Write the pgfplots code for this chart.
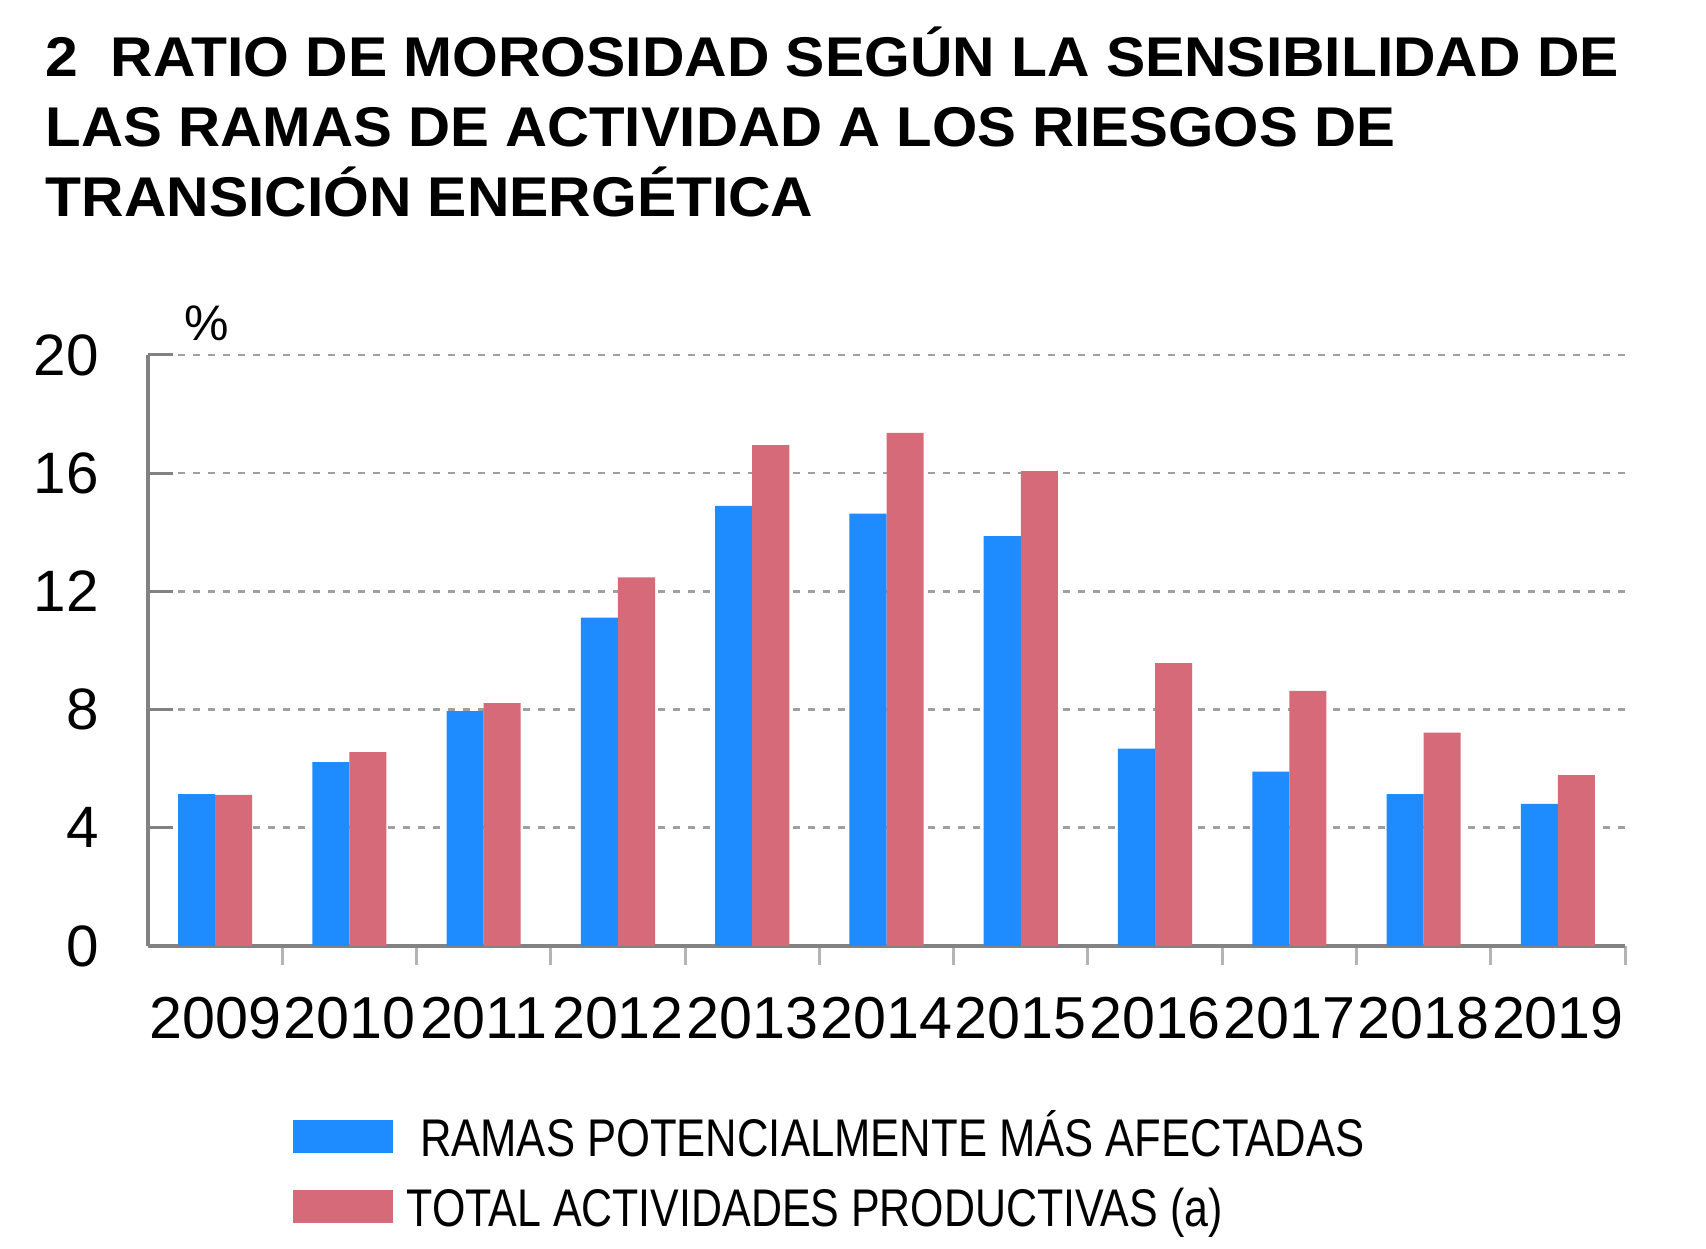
\documentclass[border=0pt]{standalone}
\usepackage{pgfplots}
\pgfplotsset{compat=1.18}
\usepackage{fontspec}
\setmainfont{Liberation Sans}
\definecolor{cblue}{RGB}{30,140,255}
\definecolor{cred}{RGB}{215,106,120}
\definecolor{axgray}{RGB}{130,130,130}
\definecolor{gridgray}{RGB}{160,160,160}
\definecolor{tickgray}{RGB}{180,180,180}

\pgfplotstableread{
x blue red
0 5.14 5.11
1 6.22 6.56
2 7.95 8.22
3 11.11 12.47
4 14.89 16.95
5 14.63 17.36
6 13.87 16.07
7 6.68 9.57
8 5.90 8.63
9 5.14 7.22
10 4.81 5.78
}\datatable

\begin{document}
\begin{tikzpicture}
\useasboundingbox (0,0) rectangle (426.5pt,312.25pt);
\begin{scope}[every node/.style={anchor=base west, inner sep=0pt, font=\fontsize{14pt}{16pt}\selectfont\bfseries}]
\node at (11.25pt,293pt) {\scalebox{1.05}[1]{2\hspace{0.55em}RATIO DE MOROSIDAD SEGÚN LA SENSIBILIDAD DE}};
\node at (11.25pt,275.5pt) {\scalebox{1.04}[1]{LAS RAMAS DE ACTIVIDAD A LOS RIESGOS DE}};
\node at (11.25pt,258pt) {\scalebox{1.05}[1]{TRANSICIÓN ENERGÉTICA}};
\end{scope}
\begin{axis}[
  at={(37pt,75.75pt)}, anchor=south west,
  scale only axis, width=369.25pt, height=147.75pt,
  xmin=-0.5, xmax=10.5, ymin=0, ymax=20,
  clip=false,
  axis lines*=left,
  axis line style={-, draw=axgray, line width=0.9pt},
  ytick={0,4,...,20},
  ymajorgrids,
  major grid style={gridgray, line width=0.65pt, dash pattern=on 1.75pt off 2pt},
  tick align=inside,
  major tick length=6.25pt,
  minor tick length=4.75pt,
  major y tick style={draw=axgray, line width=0.75pt},
  xtick={0,...,10},
  xticklabels={2009,2010,2011,2012,2013,2014,2015,2016,2017,2018,2019},
  minor xtick={0.5,1.5,...,10.5},
  major x tick style={draw=none},
  minor x tick style={draw=tickgray, line width=0.75pt},
  xticklabel style={font=\fontsize{14.8pt}{16pt}\selectfont, anchor=north, inner sep=0pt, yshift=-6.45pt},
  yticklabel style={font=\fontsize{14.6pt}{16pt}\selectfont, anchor=east, inner sep=0pt, xshift=-12.1pt},
  /pgf/number format/assume math mode=true,
  ybar, bar width=0.276,
  legend style={at={(axis description cs:0.0975,-0.29)}, anchor=north west, draw=none, fill=none, inner sep=0pt, row sep=5.5pt,
    font=\fontsize{13.25pt}{15pt}\selectfont,
    nodes={inner sep=0pt, text height=9.5pt, text depth=2.5pt}},
  legend cell align=left,
  legend image code/.code={\fill[#1] (0pt,-2.7pt) rectangle (25pt,5.5pt);},
]
\addplot[fill=cblue, draw=none, bar shift=-0.138] table[x=x, y=blue] {\datatable};
\addlegendentry{\hspace{6.8pt}\scalebox{0.823}[1]{RAMAS POTENCIALMENTE MÁS AFECTADAS}}
\addplot[fill=cred, draw=none, bar shift=0.138] table[x=x, y=red] {\datatable};
\addlegendentry{\hspace{3.5pt}\scalebox{0.81}[1]{TOTAL ACTIVIDADES PRODUCTIVAS (a)}}
\node[font=\fontsize{12.5pt}{14pt}\selectfont, inner sep=0pt] at (rel axis cs:0.04,1.054) {\%};
\end{axis}
\end{tikzpicture}
\end{document}
